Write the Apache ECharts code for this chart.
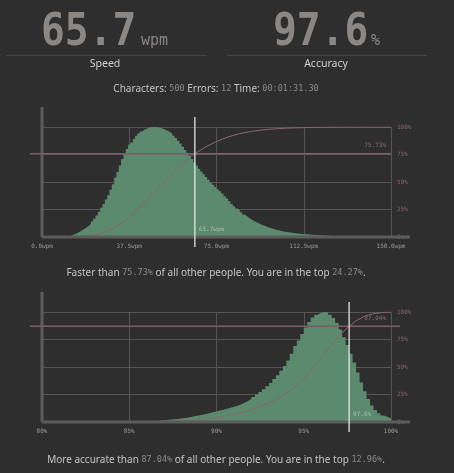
<!DOCTYPE html>
<html><head><meta charset="utf-8">
<script src="https://cdn.jsdelivr.net/npm/echarts@6/dist/echarts.min.js"></script>
<style>html,body{margin:0;padding:0;background:#2e2e2e}#c{width:454px;height:473px}</style>
</head><body><div id="c"></div>
<script>
// ---------- data ----------
const wpm = 65.7, accuracy = 97.6;
const characters = 500, errors = 12, time = '00:01:31.30';
const speedPercentile = 75.73, speedTop = 24.27;
const accPercentile = 87.04, accTop = 12.96;

const speedTicks = [0, 37.5, 75, 112.5, 150];
const accTicks = [80, 85, 90, 95, 100];
const pctTicks = [0, 25, 50, 75, 100];

// speed histogram, 1 wpm bins starting at 0 (relative height)
const speedHist = [
 0,0,0,0,0,0,0,0,0,0.003,
 0.006,0.01,0.017,0.025,0.035,0.045,0.057,0.07,0.085,0.1,
 0.118,0.14,0.165,0.195,0.23,0.265,0.3,0.34,0.38,0.43,
 0.48,0.54,0.59,0.65,0.71,0.76,0.8,0.84,0.86,0.89,
 0.92,0.94,0.96,0.975,0.985,0.993,0.998,1,1,0.998,
 0.993,0.985,0.975,0.965,0.955,0.94,0.92,0.9,0.875,0.85,
 0.82,0.79,0.765,0.74,0.71,0.68,0.65,0.62,0.595,0.57,
 0.545,0.52,0.495,0.475,0.455,0.435,0.415,0.395,0.37,0.35,
 0.325,0.3,0.28,0.26,0.245,0.225,0.205,0.19,0.175,0.16,
 0.148,0.137,0.127,0.117,0.107,0.099,0.091,0.084,0.077,0.07,
 0.064,0.059,0.054,0.05,0.046,0.043,0.04,0.037,0.034,0.031,
 0.029,0.027,0.025,0.024,0.022,0.021,0.019,0.018,0.016,0.015,
 0.014,0.013,0.012,0.011,0.01,0.009,0.008,0.007,0.006,0.005,
 0.005,0.004,0.004,0.003,0,0,0,0,0,0,
 0,0,0,0,0,0,0,0,0,0
];
const speedBinStart = 0, speedBinWidth = 1;

// speed cumulative (%), read every 5 wpm
const speedCdfX = [0,5,10,15,20,25,30,35,40,45,50,55,60,65,70,75,80,85,90,95,100,105,110,115,120,125,130,135,140,145,150];
const speedCdf  = [0,0,0,0.2,1,3,7,13.5,23,33.5,45,56,66,74.8,81.5,86.8,91,94,96,97.4,98.3,98.9,99.3,99.6,99.8,99.9,100,100,100,100,100];

// accuracy histogram, 0.2 % bins starting at 80 %
const accHist = [
 0,0,0,0,0,0,0,0,0,0,
 0,0,0,0,0,0,0,0,0,0,
 0,0,0,0,0,0,0,0,0,0.003,
 0.005,0.008,0.01,0.013,0.016,0.019,0.022,0.025,0.028,0.032,
 0.037,0.042,0.048,0.054,0.06,0.066,0.073,0.08,0.088,0.096,
 0.104,0.112,0.121,0.13,0.139,0.148,0.16,0.175,0.19,0.208,
 0.228,0.25,0.272,0.298,0.325,0.355,0.39,0.425,0.465,0.51,
 0.56,0.62,0.69,0.74,0.8,0.86,0.91,0.95,0.975,0.993,
 1,0.995,0.975,0.945,0.9,0.84,0.77,0.7,0.62,0.54,
 0.45,0.36,0.28,0.21,0.15,0.11,0.08,0.06,0.045,0.035
];
const accBinStart = 80, accBinWidth = 0.2;

const accCdfX = [80,80.5,81,81.5,82,82.5,83,83.5,84,84.5,85,85.5,86,86.5,87,87.5,88,88.5,89,89.5,90,90.5,91,91.5,92,92.5,93,93.5,94,94.5,95,95.5,96,96.5,97,97.5,98,98.5,99,99.5,100];
const accCdf  = [0,0,0,0,0,0,0,0,0,0,0,0,0.1,0.2,0.4,0.7,1.1,1.6,2.3,3.1,4.1,5.4,7,8.9,11.2,14,17.3,21.2,26,32,39.5,48.5,58.5,68.5,78,85.7,92,96.2,98.5,99.5,100];

// ---------- styles ----------
const BG = '#2e2e2e', GREEN = '#5b8a6f', PINK = '#8a6670', PINKLINE = '#7c5d68',
      GRID = '#555555', SPINE = '#5c5c5c', MONO = 'DejaVu Sans Mono', SANS = 'Noto Sans';

function histData(h, start, w) {
  const d = h.map((v, i) => [start + i * w, v]);
  d.push([start + h.length * w, h[h.length - 1]]);
  return d;
}
const zip = (xs, ys) => xs.map((x, i) => [x, ys[i]]);

const chart = echarts.init(document.getElementById('c'), null, {renderer: 'canvas'});

function xAxisCfg(gi, ticks, fmt) {
  return {
    type: 'value', gridIndex: gi, min: ticks[0], max: ticks[ticks.length - 1],
    interval: ticks[1] - ticks[0],
    axisLine: {show: false}, axisTick: {show: false},
    splitLine: {show: true, lineStyle: {color: GRID, width: 1}},
    axisLabel: {color: '#9a9a9a', fontSize: 6, fontFamily: MONO, margin: 6, formatter: fmt}
  };
}
function yHist(gi) {
  return {type: 'value', gridIndex: gi, min: 0, max: 1, show: false};
}
function yPct(gi) {
  return {
    type: 'value', gridIndex: gi, position: 'right', min: pctTicks[0], max: pctTicks[pctTicks.length - 1],
    interval: pctTicks[1] - pctTicks[0],
    axisLine: {show: false}, axisTick: {show: false},
    splitLine: {show: true, showMinLine: false, lineStyle: {color: GRID, width: 1}},
    axisLabel: {color: PINK, fontSize: 6, fontFamily: MONO, margin: 6, formatter: v => v + '%'}
  };
}

const option = {
  backgroundColor: BG,
  animation: false,
  grid: [
    {left: 42, top: 127, width: 349, height: 110},
    {left: 42, top: 312, width: 349, height: 110}
  ],
  xAxis: [
    xAxisCfg(0, speedTicks, v => v.toFixed(1) + 'wpm'),
    xAxisCfg(1, accTicks, v => v + '%')
  ],
  yAxis: [yHist(0), yPct(0), yHist(1), yPct(1)],
  series: [
    {type: 'line', xAxisIndex: 0, yAxisIndex: 0, step: 'end', symbol: 'none',
     data: histData(speedHist, speedBinStart, speedBinWidth),
     lineStyle: {width: 0}, areaStyle: {color: GREEN, opacity: 1}, z: 2},
    {type: 'line', xAxisIndex: 0, yAxisIndex: 1, symbol: 'none',
     data: zip(speedCdfX, speedCdf), lineStyle: {color: PINK, width: 1}, z: 3},
    {type: 'line', xAxisIndex: 1, yAxisIndex: 2, step: 'end', symbol: 'none',
     data: histData(accHist, accBinStart, accBinWidth),
     lineStyle: {width: 0}, areaStyle: {color: GREEN, opacity: 1}, z: 2},
    {type: 'line', xAxisIndex: 1, yAxisIndex: 3, symbol: 'none',
     data: zip(accCdfX, accCdf), lineStyle: {color: PINK, width: 1}, z: 3}
  ]
};
chart.setOption(option);

// ---------- overlays positioned through the chart's own scales ----------
function X(ai, v) { return chart.convertToPixel({xAxisIndex: ai}, v); }
function Y(ai, v) { return chart.convertToPixel({yAxisIndex: ai}, v); }

const g = [];
const bigNum = {fill: '#8b8785', font: 'bold 44px "' + MONO + '"', verticalAlign: 'top', align: 'left'};
const unit = {fill: '#8b8785', font: '15px "' + MONO + '"', verticalAlign: 'top', align: 'left'};
// header
g.push({type: 'text', x: 41, y: 12, scaleX: 0.9, style: Object.assign({text: wpm.toFixed(1)}, bigNum)});
g.push({type: 'text', x: 141, y: 34, style: Object.assign({text: 'wpm'}, unit)});
g.push({type: 'text', x: 273, y: 12, scaleX: 0.9, style: Object.assign({text: accuracy.toFixed(1)}, bigNum)});
g.push({type: 'text', x: 371, y: 34, style: Object.assign({text: '%'}, unit)});
g.push({type: 'line', shape: {x1: 6, y1: 55.5, x2: 207, y2: 55.5}, style: {stroke: '#454545', lineWidth: 1}});
g.push({type: 'line', shape: {x1: 227, y1: 55.5, x2: 427, y2: 55.5}, style: {stroke: '#454545', lineWidth: 1}});
g.push({type: 'text', x: 105, y: 64, style: {text: 'Speed', fill: '#d0d0d0', font: '10.5px "' + SANS + '"', align: 'center', verticalAlign: 'middle'}});
g.push({type: 'text', x: 326, y: 64, style: {text: 'Accuracy', fill: '#d0d0d0', font: '10.5px "' + SANS + '"', align: 'center', verticalAlign: 'middle'}});

const rich = {
  l: {fill: '#c4c4c4', fontSize: 10, fontFamily: SANS},
  v: {fill: '#8a8a8a', fontSize: 8.5, fontFamily: MONO}
};
g.push({type: 'text', x: 216, y: 89, style: {
  text: '{l|Characters: }{v|' + characters + '}{l| Errors: }{v|' + errors + '}{l| Time: }{v|' + time + '}',
  rich: rich, align: 'center', verticalAlign: 'middle'}});
g.push({type: 'text', x: 216, y: 273, style: {
  text: '{l|Faster than }{v|' + speedPercentile.toFixed(2) + '%}{l| of all other people. You are in the top }{v|' + speedTop.toFixed(2) + '%}{l|.}',
  rich: rich, align: 'center', verticalAlign: 'middle'}});
g.push({type: 'text', x: 216, y: 460, style: {
  text: '{l|More accurate than }{v|' + accPercentile.toFixed(2) + '%}{l| of all other people. You are in the top }{v|' + accTop.toFixed(2) + '%}{l|.}',
  rich: rich, align: 'center', verticalAlign: 'middle'}});

function panel(xi, yh, yp, xmin, xmax, userVal, userLabel, pct, pinkRightExtra) {
  const x0 = X(xi, xmin), x1 = X(xi, xmax);
  const yb = Y(yp, 0), yt = Y(yp, 100), yl = Y(yp, pct);
  const xu = X(xi, userVal);
  // spines
  g.push({type: 'line', z: 50, shape: {x1: x0, y1: yt - 20, x2: x0, y2: yb}, style: {stroke: SPINE, lineWidth: 3}});
  g.push({type: 'line', z: 50, shape: {x1: x0, y1: yb, x2: x1 + 19, y2: yb}, style: {stroke: SPINE, lineWidth: 3}});
  // percentile line
  g.push({type: 'line', z: 60, shape: {x1: x0 - 12, y1: yl, x2: x1 + pinkRightExtra, y2: yl}, style: {stroke: PINKLINE, lineWidth: 1.6}});
  g.push({type: 'text', z: 60, x: x1 - 5, y: yl - 8, style: {text: pct.toFixed(2) + '%', fill: '#8a6e74', font: '6px "' + MONO + '"', align: 'right', verticalAlign: 'middle'}});
  // user marker
  g.push({type: 'line', z: 70, shape: {x1: xu, y1: yt - 10, x2: xu, y2: yb + 10}, style: {stroke: '#e6e6e6', lineWidth: 1.3}});
  g.push({type: 'text', z: 70, x: xu + 4, y: yb - 8, style: {text: userLabel, fill: '#a9bdb2', font: '6px "' + MONO + '"', align: 'left', verticalAlign: 'middle'}});
}
panel(0, 0, 1, speedTicks[0], speedTicks[4], wpm, wpm.toFixed(1) + 'wpm', speedPercentile, 0);
panel(1, 2, 3, accTicks[0], accTicks[4], accuracy, accuracy.toFixed(1) + '%', accPercentile, 9);

chart.setOption({graphic: {elements: g}});
</script>
</body></html>
